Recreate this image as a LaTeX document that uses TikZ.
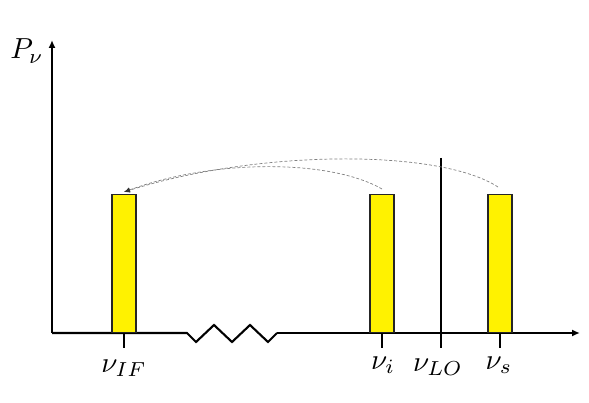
\documentclass[tikz,border=0pt]{standalone}
\usetikzlibrary{arrows.meta}
\newcommand{\biglbl}[1]{\scalebox{2.9}{$#1$}}
\begin{document}
\begin{tikzpicture}[x=1pt,y=-1pt,
  axis/.style={line width=2.1pt,black},
  barbox/.style={draw=black!85,line width=1.2pt,fill=yellow,minimum width=24pt,minimum height=138pt,inner sep=0pt,anchor=south},
  tickmark/.style={line width=1.8pt},
  flow/.style={densely dashed,gray,line width=0.7pt,-{Latex[length=6pt,width=5pt,color=black!80]}},
  lbl/.style={inner sep=0pt}
]
\useasboundingbox (0,0) rectangle (589,403);
% axes
\coordinate (o) at (52,333);
\coordinate (ytop) at (52,40);
\coordinate (z0) at (187,333);
\coordinate (z1) at (277,333);
\coordinate (xend) at (580,333);
\draw[axis,-{Latex[length=8pt,width=7pt]}] (o) -- (ytop);
\draw[axis] (o) -- (z0) -- (196,342) -- (214,325) -- (232,342) -- (250,325) -- (268,342) -- (z1);
\draw[axis,-{Latex[length=8pt,width=7pt]}] (z1) -- (xend);
% bars
\node[barbox] (bIF) at (124,333) {};
\node[barbox] (bi) at (382,333) {};
\node[barbox] (bs) at (500,333) {};
% LO line
\coordinate (lotop) at (441,158);
\coordinate (lobot) at (441,348);
\draw[line width=2pt] (lotop) -- (lobot);
% ticks
\draw[tickmark] (bIF.south) -- ++(0,15);
\draw[tickmark] (bi.south) -- ++(0,15);
\draw[tickmark] (bs.south) -- ++(0,15);
% labels
\node[lbl] (lIF) at (124,368) {\biglbl{\nu_{IF}}};
\node[lbl] (li) at (383,365) {\biglbl{\nu_i}};
\node[lbl] (lLO) at (438,367) {\biglbl{\nu_{LO}}};
\node[lbl] (ls) at (499,365) {\biglbl{\nu_s}};
\node[lbl] (lP) at (27,51) {\biglbl{P_\nu}};
% arcs
\coordinate (sstart) at (498,187);
\coordinate (istart) at (382,189);
\coordinate (tip) at (124,192);
\draw[flow] (sstart) .. controls (440,149) and (260,149) .. (tip);
\draw[flow] (istart) .. controls (330,159) and (213,159) .. (tip);
\end{tikzpicture}
\end{document}
